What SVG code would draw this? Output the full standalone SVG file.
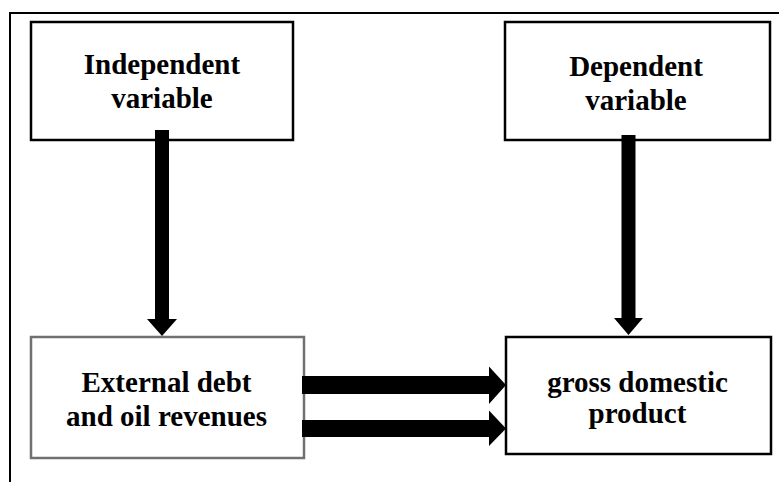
<svg xmlns="http://www.w3.org/2000/svg" width="779" height="482" viewBox="0 0 779 482">
<style>
.box{fill:#fff;stroke:#000;stroke-width:2.5}
.gray{stroke:#707070}
.t{font-family:"Liberation Serif","Times New Roman",serif;font-weight:bold;font-size:29px;fill:#000;text-anchor:middle}
.arr{fill:#000;stroke:none}
</style>
<rect width="779" height="482" fill="#fff"/>
<path d="M10,482 V13 H779" fill="none" stroke="#000" stroke-width="2"/>
<g id="independent">
<rect class="box" x="31" y="22" width="262" height="118"/>
<text class="t" x="162" y="74">Independent</text>
<text class="t" x="162" y="108">variable</text>
</g>
<g id="dependent">
<rect class="box" x="505" y="22" width="265" height="118"/>
<text class="t" x="636" y="76">Dependent</text>
<text class="t" x="636" y="110">variable</text>
</g>
<g id="external">
<rect class="box gray" x="31" y="337" width="273" height="121"/>
<text class="t" x="166.5" y="392">External debt</text>
<text class="t" x="166.5" y="426">and oil revenues</text>
</g>
<g id="gdp">
<rect class="box" x="506" y="337" width="265" height="117" stroke-width="3"/>
<text class="t" x="637.5" y="392">gross domestic</text>
<text class="t" x="637.5" y="423">product</text>
</g>
<g id="connectors">
<polygon class="arr" points="155,130 169,130 169,319 177,319 162,336 147,319 155,319"/>
<polygon class="arr" points="621.5,135 635.5,135 635.5,318 643,318 628.5,335 614,318 621.5,318"/>
<polygon class="arr" points="302,376 489,376 489,366.5 506,385 489,404 489,394 302,394"/>
<polygon class="arr" points="302,420 489,420 489,410.5 506,428.5 489,446 489,437 302,437"/>
</g>
</svg>
